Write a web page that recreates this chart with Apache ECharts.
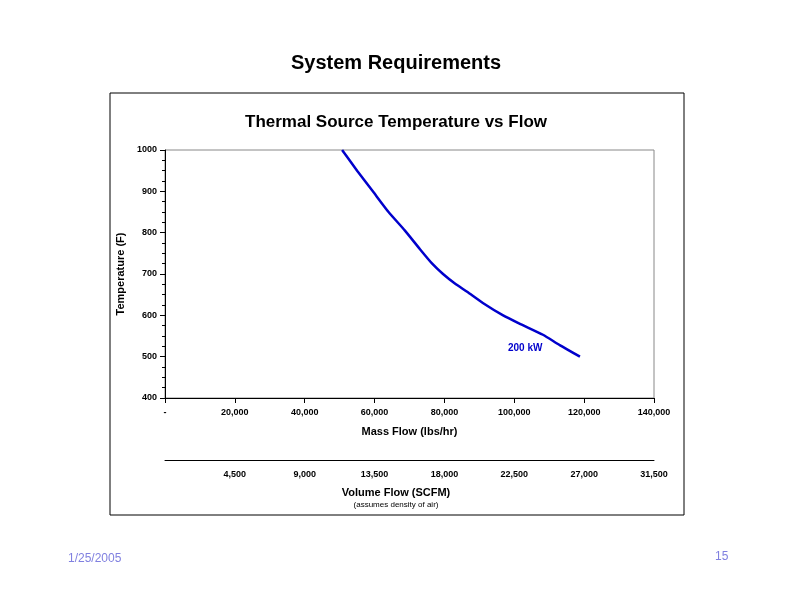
<!DOCTYPE html><html><head><meta charset="utf-8">
<script src="https://cdn.jsdelivr.net/npm/echarts@6/dist/echarts.min.js"></script>
<style>html,body{margin:0;background:#fff}#c{width:792px;height:612px}</style></head><body><div id="c"></div>
<script>
const massFlow=[50700,55000,59500,64000,68700,73000,76500,79600,83000,86500,91000,96800,102000,108200,113000,118800];
const temperature=[1000,950,900,850,805,760,725,700,677,657,630,600,578,553,528,500];
const seriesName='200 kW';
const f='Liberation Sans, Arial, sans-serif';
const c=echarts.init(document.getElementById('c'));
c.setOption({
 animation:false,
 title:[{text:'System Requirements',left:'center',top:48,textStyle:{fontFamily:f,fontSize:20,fontWeight:'bold',color:'#000'}},
        {text:'Thermal Source Temperature vs Flow',left:'center',top:109,textStyle:{fontFamily:f,fontSize:17,fontWeight:'bold',color:'#000'}}],
 grid:{left:165,right:138,top:150,bottom:214},
 xAxis:[{type:'value',min:0,max:140000,interval:20000,name:'Mass Flow (lbs/hr)',nameLocation:'middle',nameGap:28,
   nameTextStyle:{fontFamily:f,fontSize:11,fontWeight:'bold',color:'#000'},
   axisLine:{lineStyle:{color:'#000'}},axisTick:{lineStyle:{color:'#000'}},splitLine:{show:false},
   axisLabel:{fontFamily:f,fontSize:9,fontWeight:'bold',color:'#000',margin:10,formatter:v=>v===0?'-':v.toLocaleString('en-US')}},
  {type:'value',position:'bottom',offset:62,min:0,max:31500,interval:4500,
   axisLine:{onZero:false,lineStyle:{color:'#000'}},axisTick:{show:false},splitLine:{show:false},
   axisLabel:{fontFamily:f,fontSize:9,fontWeight:'bold',color:'#000',margin:10,formatter:v=>v===0?'':v.toLocaleString('en-US')}}],
 yAxis:{type:'value',min:400,max:1000,interval:100,name:'Temperature (F)',nameLocation:'middle',nameGap:30,
   nameTextStyle:{fontFamily:f,fontSize:11,fontWeight:'bold',color:'#000'},
   axisLine:{show:true,lineStyle:{color:'#000'}},axisTick:{show:true,lineStyle:{color:'#000'}},
   minorTick:{show:true,splitNumber:4,length:3,lineStyle:{color:'#000'}},splitLine:{show:false},
   axisLabel:{fontFamily:f,fontSize:9,fontWeight:'bold',color:'#000',formatter:v=>String(v)}},
 series:[{name:seriesName,type:'line',xAxisIndex:0,data:massFlow.map((x,i)=>[x,temperature[i]]),smooth:0.2,showSymbol:false,
   lineStyle:{color:'#0000cc',width:2.5},
   endLabel:{show:true,formatter:seriesName,offset:[-80,-8],fontFamily:f,fontSize:10,fontWeight:'bold',color:'#0000cc'}}],
 graphic:[
  {type:'rect',shape:{x:110,y:93,width:574,height:422},style:{fill:'none',stroke:'#000',lineWidth:1}},
  {type:'rect',shape:{x:165,y:150,width:489,height:248},style:{fill:'none',stroke:'#888',lineWidth:1}},
  {type:'text',left:'center',top:487,style:{text:'Volume Flow (SCFM)',font:'bold 11px '+f,fill:'#000'}},
  {type:'text',left:'center',top:501,style:{text:'(assumes density of air)',font:'8px '+f,fill:'#000'}},
  {type:'text',left:68,top:553,style:{text:'1/25/2005',font:'12px '+f,fill:'#8080e0'}},
  {type:'text',left:715,top:551,style:{text:'15',font:'12px '+f,fill:'#8080e0'}}
 ]
});
</script></body></html>
